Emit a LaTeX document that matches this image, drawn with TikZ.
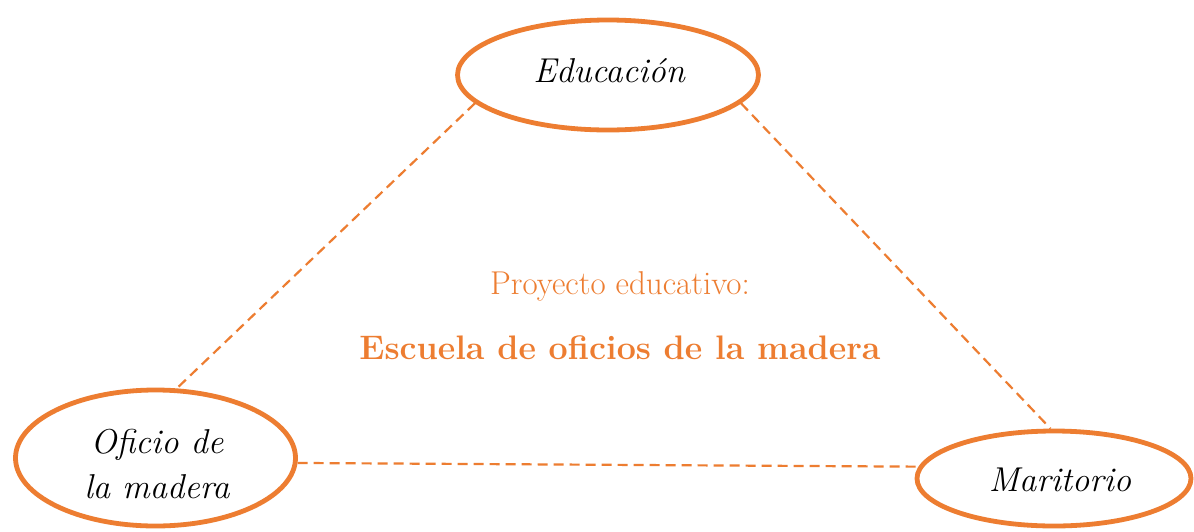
\documentclass[tikz,border=0pt]{standalone}
\usetikzlibrary{shapes.geometric}
\definecolor{accent}{HTML}{ED7D31}
\begin{document}
\begin{tikzpicture}[x=1pt,y=-1pt,
  oval/.style={ellipse, draw=accent, line width=4.8pt, inner sep=0pt, fill=white},
  ovaltext/.style={font=\fontsize{34.5}{45}\selectfont\itshape, align=center, inner sep=0pt},
  link/.style={draw=accent, line width=2.2pt, dash pattern=on 10pt off 6pt},
  centertext/.style={text=accent, inner sep=0pt}]
\useasboundingbox[fill=white] (0,0) rectangle (1194,531);
\node[oval, minimum width=301pt, minimum height=110pt] (edu) at (608,75) {};
\node[oval, minimum width=280pt, minimum height=136pt] (ofi) at (155.5,458) {};
\node[oval, minimum width=274pt, minimum height=95pt] (mar) at (1054,478.5) {};
\node[ovaltext] (edut) at (609,71) {Educación};
\node[ovaltext] (ofit) at (157,464) {Oficio de\\la madera};
\node[ovaltext] (mart) at (1060,480) {Maritorio};
\draw[link] (edu.192.3) -- (ofi.73.7);
\draw[link] (edu.-12.5) -- (mar.94.5);
\draw[link] (ofi.-2.8) -- (mar.175.2);
\node[centertext, font=\fontsize{33}{38}\selectfont] (proj) at (620,286) {Proyecto educativo:};
\node[centertext, font=\fontsize{34}{40}\selectfont\bfseries] (esc) at (620,348) {Escuela de oficios de la madera};
\end{tikzpicture}
\end{document}
